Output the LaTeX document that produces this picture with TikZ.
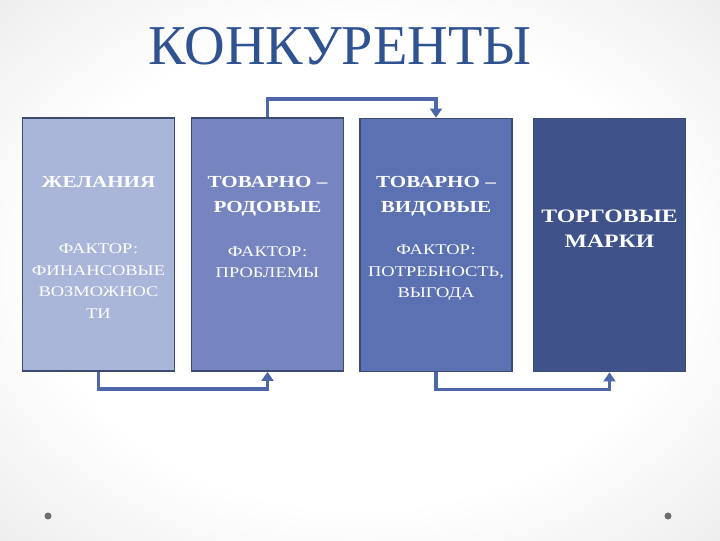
\documentclass[tikz,border=0pt]{standalone}
\usepackage{fontspec}
\setmainfont{Liberation Serif}
\newfontfamily\boxfont[FakeStretch=1.25]{Liberation Serif}
\usepackage{xcolor}
\usetikzlibrary{arrows, arrows.meta}
\usetikzlibrary{positioning}
\usetikzlibrary{calc}
\definecolor{titleblue}{HTML}{2F5290}
\definecolor{linkblue}{HTML}{4E67A9}
\definecolor{edgeblue}{HTML}{3D4A72}
\definecolor{boxA}{HTML}{A9B5D9}
\definecolor{boxB}{HTML}{7685BF}
\definecolor{boxC}{HTML}{5B71B1}
\definecolor{boxD}{HTML}{3F5289}
\definecolor{dotgray}{HTML}{6E6E6E}
\pgfdeclareradialshading{slidebg}{\pgfpoint{0bp}{0bp}}{color(0bp)=(white); color(22bp)=(white); color(50bp)=(black!14); color(71bp)=(black!21)}
\tikzset{
  kbox/.style={draw=edgeblue, line width=1pt, minimum width=3.8cm, minimum height=6.33cm, inner sep=0pt},
  head/.style={text=white, align=center, font=\boxfont\bfseries\fontsize{12}{17.4}\selectfont},
  body/.style={text=white, align=center, font=\boxfont\fontsize{10.5}{15.3}\selectfont},
  link/.style={draw=linkblue, line width=2.6pt, -{Triangle[width=8.5pt,length=6.5pt]}}
}

\begin{document}
\begin{tikzpicture}[x=0.025cm, y=-0.025cm, >=Stealth]
				% background
				\useasboundingbox (0,0) rectangle (720,540);
				\shade[shading=slidebg] (0,0) rectangle (720,540);
				
				% title
				\node[text=titleblue, font=\fontsize{40}{48}\selectfont] (title) at (340,46) {КОНКУРЕНТЫ};
				
				% draw boxes
				\node[kbox, fill=boxA] (b1) at (98.5,244.5) {};
				\node[kbox, fill=boxB] (b2) at (267.5,244.5) {};
				\node[kbox, fill=boxC] (b3) at (436,245) {};
				\node[kbox, fill=boxD] (b4) at (609.5,245) {};
				
				% box texts
				\node[head] (h1) at (98.5,182) {ЖЕЛАНИЯ};
				\node[body] (f1) at (98.5,281) {ФАКТОР:\\ФИНАНСОВЫЕ\\ВОЗМОЖНОС\\ТИ};
				\node[head] (h2) at (267.5,196) {ТОВАРНО –\\РОДОВЫЕ};
				\node[body] (f2) at (267.5,262) {ФАКТОР:\\ПРОБЛЕМЫ};
				\node[head] (h3) at (436,196) {ТОВАРНО –\\ВИДОВЫЕ};
				\node[body] (f3) at (436,273) {ФАКТОР:\\ПОТРЕБНОСТЬ,\\ВЫГОДА};
				\node[head, font=\boxfont\bfseries\fontsize{13.5}{17.8}\selectfont] (h4) at (609.5,229) {ТОРГОВЫЕ\\МАРКИ};
				
				% draw links
				\draw[link] (b2.north) -- ++(0,-18) -| (b3.north);
				\draw[link] (b1.south) -- ++(0,17) -| (b2.south);
				\draw[link] (b3.south) -- ++(0,17) -| (b4.south);
				
				% corner dots
				\fill[dotgray] (48,516) circle (3.5);
				\fill[dotgray] (668,516) circle (3.5);
			\end{tikzpicture}
\end{document}
